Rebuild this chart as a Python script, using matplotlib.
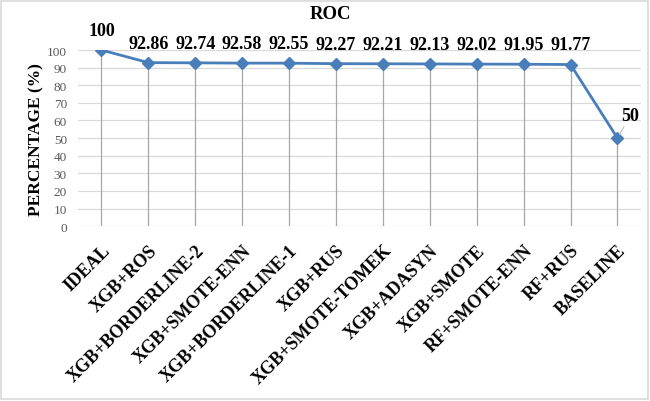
import matplotlib.pyplot as plt
from matplotlib.patches import Rectangle

methods = ['IDEAL', 'XGB+ROS', 'XGB+BORDERLINE-2', 'XGB+SMOTE-ENN', 'XGB+BORDERLINE-1',
           'XGB+RUS', 'XGB+SMOTE-TOMEK', 'XGB+ADASYN', 'XGB+SMOTE', 'RF+SMOTE-ENN',
           'RF+RUS', 'BASELINE']
roc = [100, 92.86, 92.74, 92.58, 92.55, 92.27, 92.21, 92.13, 92.02, 91.95, 91.77, 50]
labels = ['100', '92.86', '92.74', '92.58', '92.55', '92.27', '92.21', '92.13',
          '92.02', '91.95', '91.77', '50']

plt.rcParams['font.family'] = ['Liberation Serif', 'DejaVu Serif']

fig = plt.figure(figsize=(6.5, 4.02), dpi=100)
ax = fig.add_axes([0.12, 0.435, 0.866, 0.438])

x = list(range(len(methods)))
blue = '#4A7EBB'

# drop lines from each point to the axis
ax.vlines(x, 0, roc, color='#a6a6a6', lw=0.9, zorder=1)
ax.plot(x, roc, color=blue, lw=2, marker='D', ms=6.5, zorder=3)

for i, (v, s) in enumerate(zip(roc, labels)):
    if s == '50':
        ax.annotate(s, xy=(i, v), xytext=(i + 0.28, v + 8), ha='center', va='bottom',
                    fontsize=13, fontweight='bold',
                    arrowprops=dict(arrowstyle='-', color='#bfbfbf', lw=0.8, shrinkA=0, shrinkB=3))
    else:
        ax.annotate(s, xy=(i, v), xytext=(0, 8), textcoords='offset points',
                    ha='center', va='bottom', fontsize=13, fontweight='bold')

ax.set_xlim(-0.5, len(methods) - 0.5)
ax.set_ylim(0, 100)
ax.set_yticks(range(0, 101, 10))
ax.yaxis.grid(True, color='#d9d9d9', lw=0.9)
ax.set_axisbelow(True)
for sp in ax.spines.values():
    sp.set_visible(False)
ax.tick_params(axis='y', length=0, labelsize=9.5, labelcolor='#595959', pad=8)
ax.tick_params(axis='x', length=0, pad=11)
ax.set_xticks(x)
ax.set_xticklabels(methods, rotation=45, ha='right', rotation_mode='anchor',
                   fontsize=13, fontweight='bold')
ax.set_ylabel('PERCENTAGE (%)', fontsize=12.5, fontweight='bold', labelpad=2)
fig.text(0.509, 0.965, 'ROC', ha='center', va='center', fontsize=13.5, fontweight='bold')

fig.patches.append(Rectangle((0.002, 0.004), 0.995, 0.992, transform=fig.transFigure,
                             fill=False, edgecolor='#d9d9d9', lw=1.2))

fig.savefig('out.png', dpi=100)
